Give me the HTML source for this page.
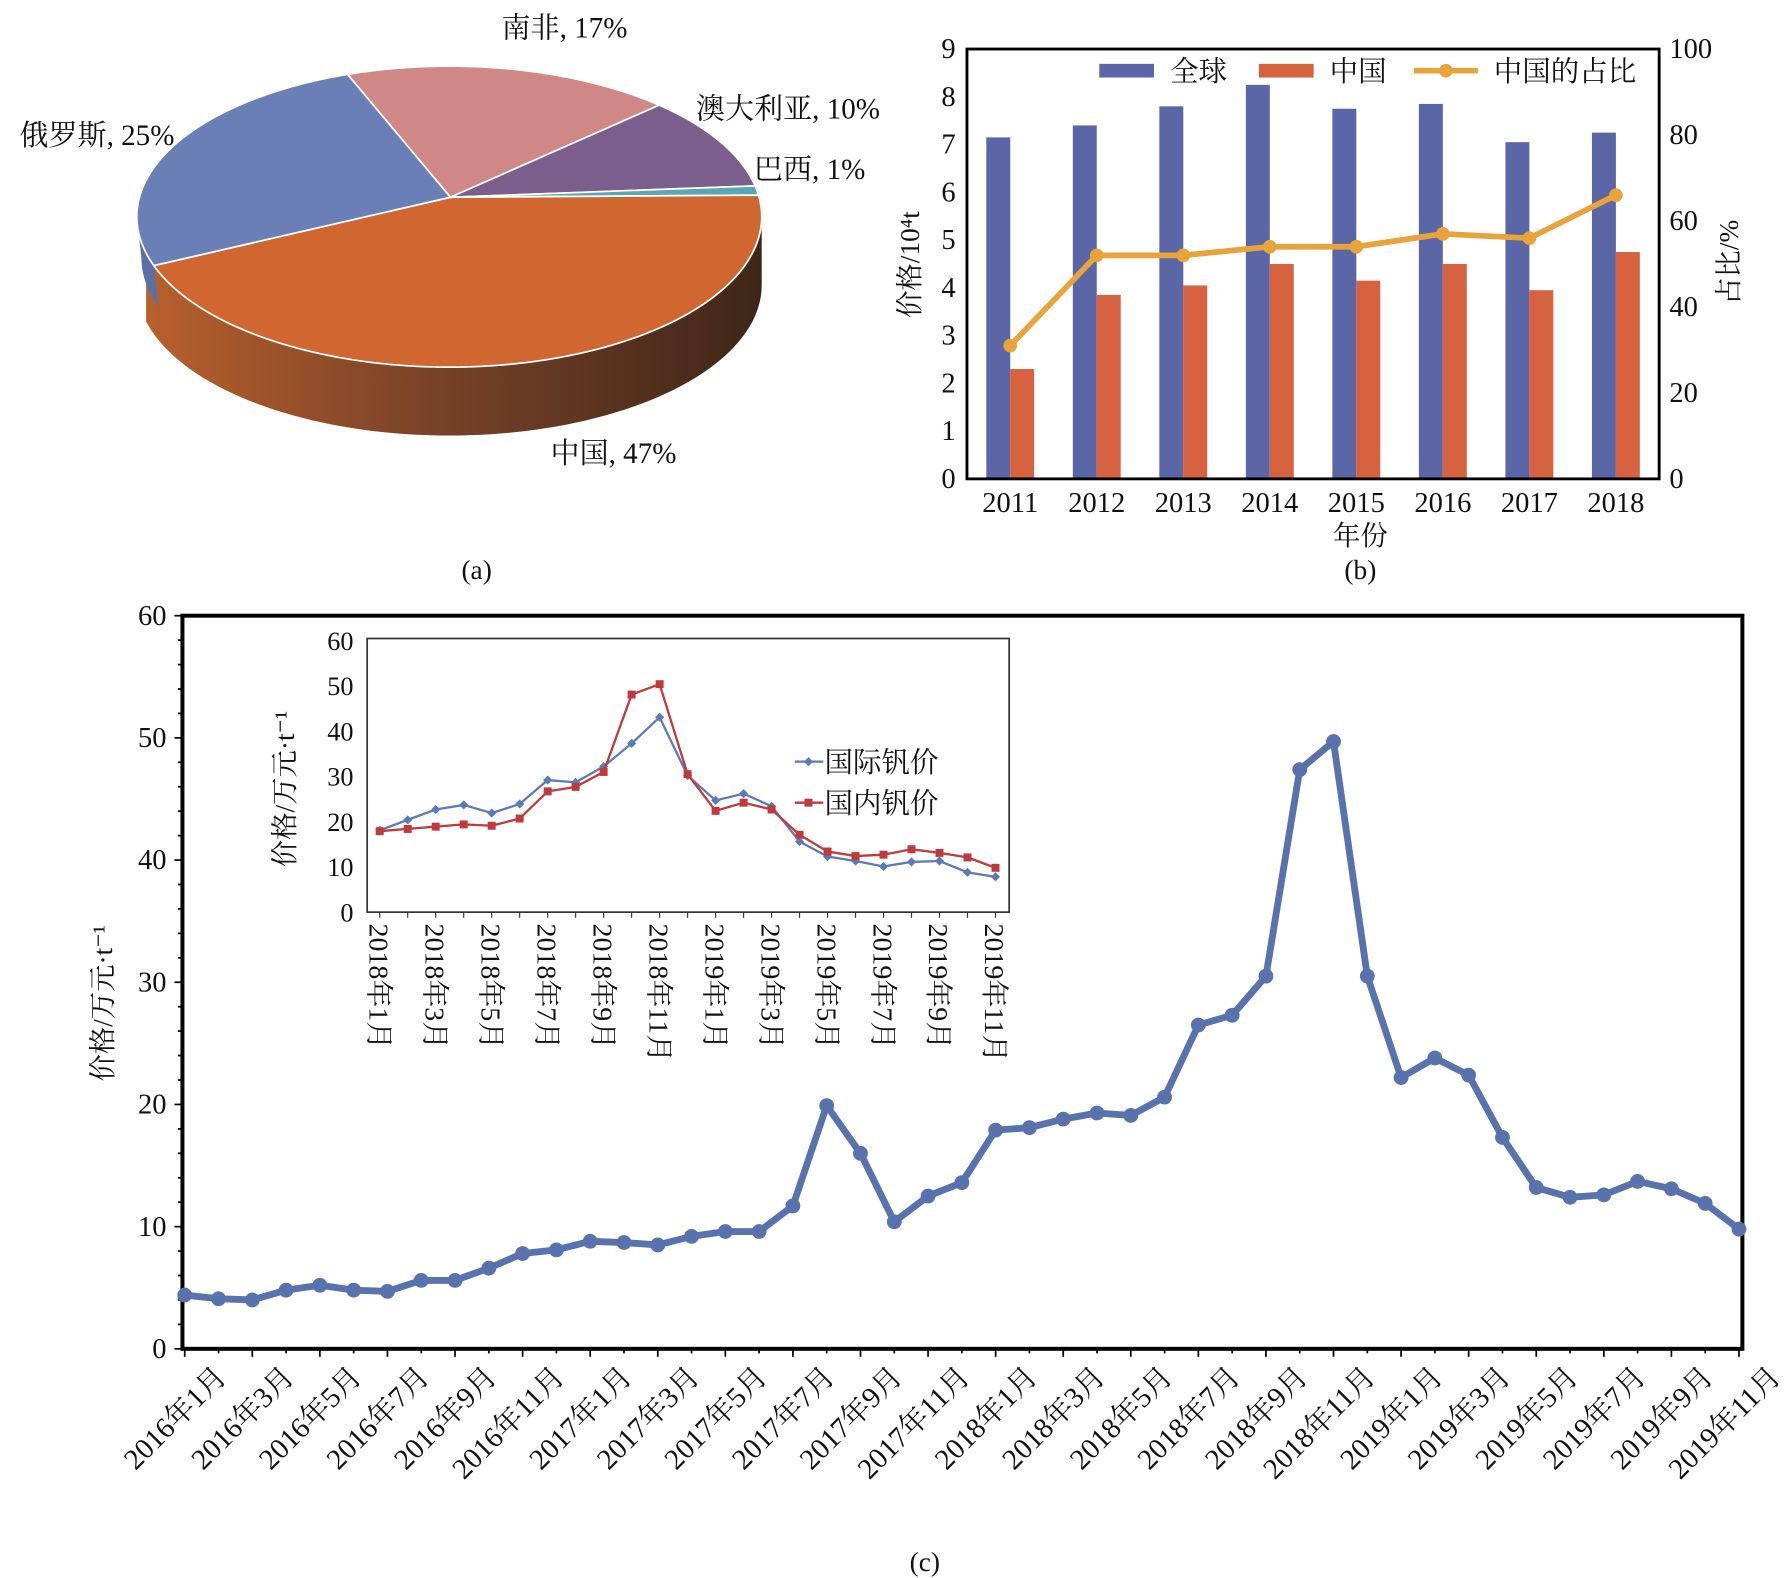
<!DOCTYPE html>
<html><head><meta charset="utf-8">
<style>
html,body{margin:0;padding:0;background:#fff;}
svg{display:block;}
text{font-family:"Liberation Serif","Noto Serif CJK SC","Noto Sans CJK SC",serif;fill:#111;}
</style></head>
<body>
<svg id="fig" xmlns="http://www.w3.org/2000/svg" width="1788" height="1578" viewBox="0 0 1568 1384" preserveAspectRatio="none">
<defs>
<linearGradient id="sideGrad" x1="0" x2="1" y1="0" y2="0">
<stop offset="0" stop-color="#b8602c"/><stop offset="0.45" stop-color="#7a4328"/><stop offset="1" stop-color="#3e2618"/>
</linearGradient>
</defs>
<g id="pie"></g>
<g id="bars"></g>
<g id="linec"></g>
<g id="inset"></g>
</svg>
<script>
// ---------- data ----------
const pieLabels = ["南非","澳大利亚","巴西","中国","俄罗斯"];
const pieValues = [17,10,1,47,25];
const pieColors = ["#cf8886","#7c5e8c","#5aa6b6","#d06630","#6a7fb5"];

const years = ["2011","2012","2013","2014","2015","2016","2017","2018"];
const globalVals = [7.15,7.4,7.8,8.25,7.75,7.85,7.05,7.25];
const chinaVals = [2.3,3.85,4.05,4.5,4.15,4.5,3.95,4.75];
const shareVals = [31,52,52,54,54,57,56,66];
const leftTicks = [0,1,2,3,4,5,6,7,8,9];
const rightTicks = [0,20,40,60,80,100];

const months = ["2016年1月","2016年2月","2016年3月","2016年4月","2016年5月","2016年6月","2016年7月","2016年8月","2016年9月","2016年10月","2016年11月","2016年12月",
"2017年1月","2017年2月","2017年3月","2017年4月","2017年5月","2017年6月","2017年7月","2017年8月","2017年9月","2017年10月","2017年11月","2017年12月",
"2018年1月","2018年2月","2018年3月","2018年4月","2018年5月","2018年6月","2018年7月","2018年8月","2018年9月","2018年10月","2018年11月","2018年12月",
"2019年1月","2019年2月","2019年3月","2019年4月","2019年5月","2019年6月","2019年7月","2019年8月","2019年9月","2019年10月","2019年11月"];
const priceVals = [4.4,4.1,4.0,4.8,5.2,4.8,4.7,5.6,5.6,6.6,7.8,8.1,
8.8,8.7,8.5,9.2,9.6,9.6,11.7,19.9,16.0,10.4,12.5,13.6,
17.9,18.1,18.8,19.3,19.1,20.6,26.5,27.3,30.5,47.4,49.7,30.5,
22.2,23.8,22.4,17.3,13.2,12.4,12.6,13.7,13.1,11.9,9.8];
const mainTicks = [0,10,20,30,40,50,60];

const insetMonths = months.slice(24);
const intlVals = [18.1,20.4,22.7,23.7,21.9,23.9,29.2,28.7,32.2,37.3,43.1,30.2,24.7,26.2,23.4,15.6,12.3,11.3,10.1,11.1,11.3,8.8,7.8];
const domVals = [17.9,18.4,18.9,19.4,19.1,20.7,26.7,27.7,31.0,48.1,50.4,30.5,22.4,24.2,22.7,17.1,13.4,12.4,12.7,13.9,13.1,12.1,9.8];
const insetTicks = [0,10,20,30,40,50,60];

// ---------- helpers ----------
const NS="http://www.w3.org/2000/svg";
function mk(parent,tag,attrs,txt){const e=document.createElementNS(NS,tag);for(const k in attrs)e.setAttribute(k,attrs[k]);if(txt!==undefined)e.textContent=txt;parent.appendChild(e);return e;}

// ---------- pie ----------
(function(){
 const g=document.getElementById('pie');
 const cx=394,cy=190,rx=274,ry=132,ax=395,ay=173,depth=60;
 const P=t=>[cx+rx*Math.cos(t*Math.PI/180),cy+ry*Math.sin(t*Math.PI/180)];
 const total=pieValues.reduce((a,b)=>a+b,0);
 let start=251;
 const segs=[];
 pieValues.forEach((v,i)=>{const end=start+v/total*360;segs.push([start,end]);start=end;});
 let d="";
 const a0=0,a1=166;
 for(let t=a0;t<=a1;t+=2){const p=P(t);d+=(t===a0?"M":"L")+p[0]+","+p[1]+" ";}
 for(let t=a1;t>=a0;t-=2){const p=P(t);d+="L"+p[0]+","+(p[1]+depth)+" ";}
 const side=mk(g,'path',{d:d+"Z",fill:"url(#sideGrad)"});
 
 
 let d2="";const s2=segs[3][1]%360;
 for(let t=s2;t<=180;t+=1){const p=P(t);d2+=(d2?"L":"M")+p[0]+","+p[1]+" ";}
 for(let t=180;t>=s2;t-=1){const p=P(t);d2+="L"+(p[0]+4)+","+(p[1]+depth*0.6)+" ";}
 const sl=mk(g,'path',{d:d2+"Z",fill:"#5a6fa3"});
 
 
 segs.forEach((s,i)=>{
  let dd="M"+ax+","+ay+" ";
  for(let t=s[0];t<=s[1];t+=0.5){const p=P(t);dd+="L"+p[0]+","+p[1]+" ";}
  const pe=P(s[1]);dd+="L"+pe[0]+","+pe[1]+" Z";
  const sl=mk(g,'path',{d:dd,fill:pieColors[i],stroke:"#fff","stroke-width":1.5});
  
  
 });
 const lbl=[[495,33],[691,104],[710,157],[538,406],[85,127]];
 pieLabels.forEach((n,i)=>{
  const t=mk(g,'text',{x:lbl[i][0],y:lbl[i][1],"text-anchor":"middle","font-size":25.5},n+", "+pieValues[i]+"%");
  
  
 });
 const c=mk(g,'text',{x:418,y:508,"text-anchor":"middle","font-size":24},"(a)");
 
 
})();

// ---------- bar chart b ----------
(function(){
 const g=document.getElementById('bars');
 const L=848,R=1455,T=43,B=420;
 const yL=v=>B-(v/9)*(B-T), yR=v=>B-(v/100)*(B-T);
 const step=(R-L)/years.length;
 const xc=i=>L+step*(i+0.5);
 const bw=21;
 years.forEach((y,i)=>{
  const b1=mk(g,'rect',{x:xc(i)-bw,y:yL(globalVals[i]),width:bw,height:B-yL(globalVals[i]),fill:"#5b66a6"});
  
  
  const b2=mk(g,'rect',{x:xc(i),y:yL(chinaVals[i]),width:bw,height:B-yL(chinaVals[i]),fill:"#d7623f"});
  
  
  const t=mk(g,'text',{x:xc(i),y:449,"text-anchor":"middle","font-size":25},y);
  
  
 });
 const pts=shareVals.map((v,i)=>xc(i)+","+yR(v)).join(" ");
 const pl=mk(g,'polyline',{points:pts,fill:"none",stroke:"#e8a43a","stroke-width":5});
 
 
 shareVals.forEach((v,i)=>{
  const c=mk(g,'circle',{cx:xc(i),cy:yR(v),r:6,fill:"#e8a43a"});
  
  
 });
 const fr=mk(g,'rect',{x:L,y:T,width:R-L,height:B-T,fill:"none",stroke:"#000","stroke-width":2.5});
 
 
 leftTicks.forEach(v=>{
  const t=mk(g,'text',{x:838,y:yL(v)+8,"text-anchor":"end","font-size":25},v);
  
  
 });
 rightTicks.forEach(v=>{
  const t=mk(g,'text',{x:1464,y:yR(v)+8,"font-size":25},v);
  
  
 });
 const l1=mk(g,'rect',{x:964,y:56,width:48,height:12,fill:"#5b66a6"});
 
 const t1=mk(g,'text',{x:1026,y:71,"font-size":25},"全球");
 
 const l2=mk(g,'rect',{x:1104,y:56,width:48,height:12,fill:"#d7623f"});
 
 const t2=mk(g,'text',{x:1166,y:71,"font-size":25},"中国");
 
 const l3=mk(g,'line',{x1:1240,y1:62,x2:1296,y2:62,stroke:"#e8a43a","stroke-width":5});
 
 const l3c=mk(g,'circle',{cx:1268,cy:62,r:6,fill:"#e8a43a"});
 
 const t3=mk(g,'text',{x:1310,y:71,"font-size":25},"中国的占比");
 
 const yt=mk(g,'text',{x:0,y:0,"text-anchor":"middle","font-size":24,transform:"translate(806,232) rotate(-90)"},"价格/10⁴t");
 
 const rt=mk(g,'text',{x:0,y:0,"text-anchor":"middle","font-size":24,transform:"translate(1524,230) rotate(-90)"},"占比/%");
 
 const xt=mk(g,'text',{x:1193,y:478,"text-anchor":"middle","font-size":24},"年份");
 
 const cb=mk(g,'text',{x:1193,y:508,"text-anchor":"middle","font-size":24},"(b)");
 
})();

// ---------- main line chart c ----------
(function(){
 const g=document.getElementById('linec');
 const L=160,R=1528,T=540,B=1183,x0=162,x1=1525;
 const y=v=>B-(v/60)*(B-T);
 const x=i=>x0+(x1-x0)*i/(months.length-1);
 const fr=mk(g,'rect',{x:L,y:T,width:R-L,height:B-T,fill:"none",stroke:"#000","stroke-width":3.5});
 
 for(let v=0;v<=60;v+=2){
  const tk=mk(g,'line',{x1:L-(v%10===0?7:4),x2:L,y1:y(v),y2:y(v),stroke:"#000","stroke-width":1.5});
  
 }
 mainTicks.forEach(v=>{
  const t=mk(g,'text',{x:146,y:y(v)+8,"text-anchor":"end","font-size":25},v);
  
 });
 months.forEach((m,i)=>{
  const tk=mk(g,'line',{x1:x(i),x2:x(i),y1:B,y2:B+(i%2===0?7:4),stroke:"#000","stroke-width":1.5});
  
  if(i%2===0){
   const t=mk(g,'text',{x:0,y:0,"text-anchor":"end","font-size":25.5,transform:"translate("+(x(i)+38)+","+(B+26)+") rotate(-45)"},m);
   
  }
 });
 const pl=mk(g,'polyline',{points:priceVals.map((v,i)=>x(i)+","+y(v)).join(" "),fill:"none",stroke:"#5872ae","stroke-width":6,"stroke-linejoin":"round"});
 
 priceVals.forEach((v,i)=>{
  const c=mk(g,'circle',{cx:x(i),cy:y(v),r:6.5,fill:"#5872ae"});
  
 });
 const yt=mk(g,'text',{x:0,y:0,"text-anchor":"middle","font-size":24,transform:"translate(98,880) rotate(-90)"},"价格/万元·t⁻¹");
 
 const cc=mk(g,'text',{x:811,y:1378,"text-anchor":"middle","font-size":24},"(c)");
 
})();

// ---------- inset ----------
(function(){
 const g=document.getElementById('inset');
 const L=322,R=885,T=560,B=800,x0=333,x1=873;
 const y=v=>B-(v/60)*(B-562);
 const x=i=>x0+(x1-x0)*i/(insetMonths.length-1);
 const bg=mk(g,'rect',{x:L,y:T,width:R-L,height:B-T,fill:"#fff",stroke:"#333","stroke-width":1.5});
 
 insetTicks.forEach(v=>{
  const t=mk(g,'text',{x:310,y:y(v)+8,"text-anchor":"end","font-size":23},v);
  
 });
 insetMonths.forEach((m,i)=>{
  const tk=mk(g,'line',{x1:x(i),x2:x(i),y1:B,y2:B+5,stroke:"#333","stroke-width":1});
  
  if(i%2===0){
   const t=mk(g,'text',{x:0,y:0,"font-size":24.5,transform:"translate("+(x(i)-9)+",810) rotate(90)"},m);
   
  }
 });
 const p1=mk(g,'polyline',{points:intlVals.map((v,i)=>x(i)+","+y(v)).join(" "),fill:"none",stroke:"#5a7ab8","stroke-width":2});
 
 intlVals.forEach((v,i)=>{
  const c=mk(g,'path',{d:"M"+x(i)+","+(y(v)-4)+"l4,4l-4,4l-4,-4z",fill:"#5a7ab8"});
  
 });
 const p2=mk(g,'polyline',{points:domVals.map((v,i)=>x(i)+","+y(v)).join(" "),fill:"none",stroke:"#c0393b","stroke-width":2});
 
 domVals.forEach((v,i)=>{
  const c=mk(g,'rect',{x:x(i)-3.5,y:y(v)-3.5,width:7,height:7,fill:"#c0393b"});
  
 });
 const a=mk(g,'line',{x1:697,x2:722,y1:668,y2:668,stroke:"#5a7ab8","stroke-width":2});
 
 const am=mk(g,'path',{d:"M709,664l4,4l-4,4l-4,-4z",fill:"#5a7ab8"});
 
 const at=mk(g,'text',{x:723,y:677,"font-size":25},"国际钒价");
 
 const b=mk(g,'line',{x1:697,x2:722,y1:704,y2:704,stroke:"#c0393b","stroke-width":2});
 
 const bm=mk(g,'rect',{x:705.5,y:700.5,width:7,height:7,fill:"#c0393b"});
 
 const bt=mk(g,'text',{x:723,y:713,"font-size":25},"国内钒价");
 
 const yt=mk(g,'text',{x:0,y:0,"text-anchor":"middle","font-size":24,transform:"translate(258,692) rotate(-90)"},"价格/万元·t⁻¹");
 
})();
</script>
</body></html>
